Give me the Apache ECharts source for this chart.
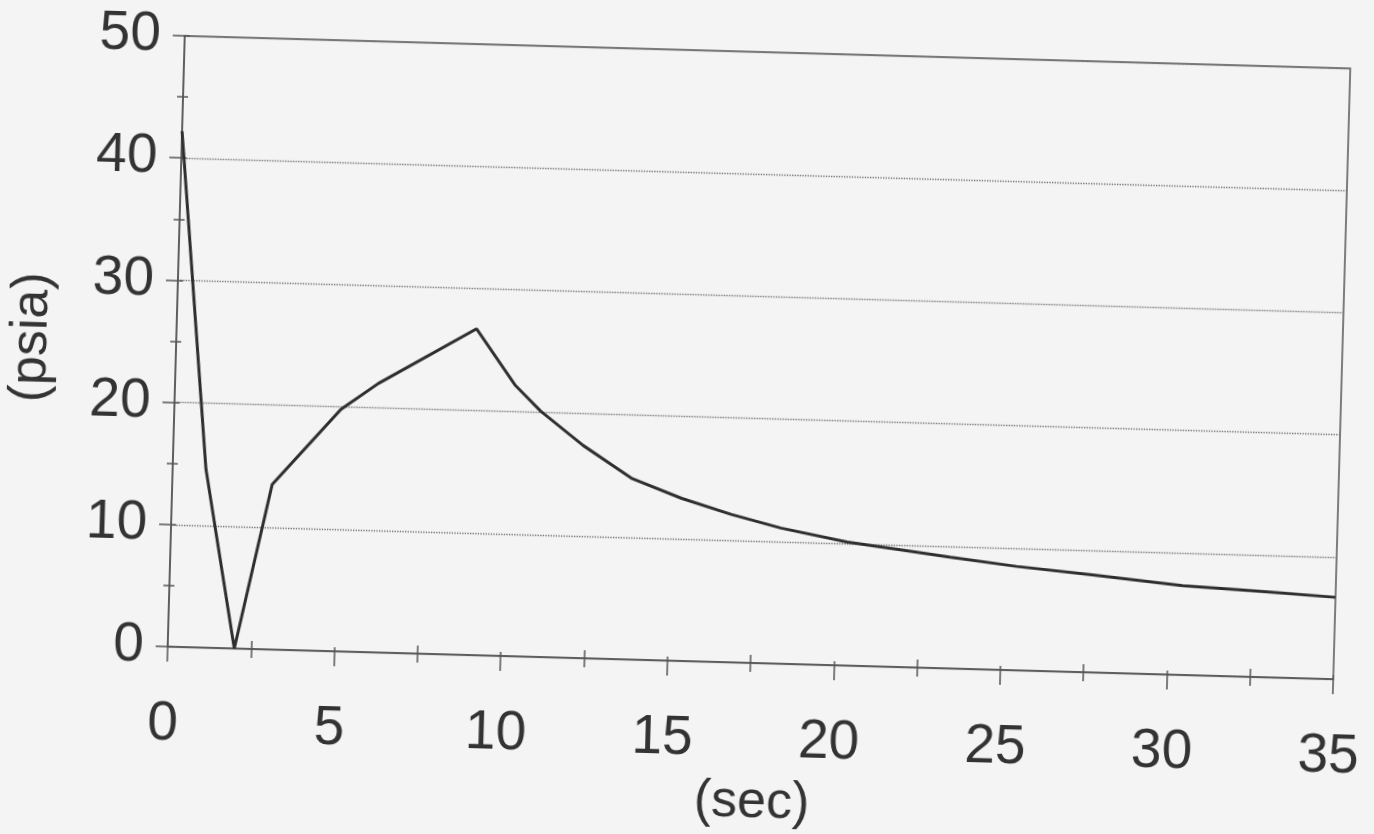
<!DOCTYPE html>
<html>
<head>
<meta charset="utf-8">
<script src="https://cdn.jsdelivr.net/npm/echarts@6/dist/echarts.min.js"></script>
<style>
  html, body { margin: 0; padding: 0; background: #f4f4f4; }
  /* the scan is tilted a little clockwise */
  #chart {
    width: 1374px; height: 834px;
    transform: rotate(1.6deg);
    transform-origin: 759px 357px;
  }
</style>
</head>
<body>
<div id="chart"></div>
<script>
// time (sec) and pressure (psia)
const timeSec = [0, 1, 2, 3, 5, 6.1, 9, 10.2, 11, 12.3, 13.8, 15.3, 16.8, 18.3, 20.3, 21.9, 23.4, 25.4, 27.6, 30.4, 32.9, 35];
const pressure = [42.2, 14.6, 0, 13.5, 19.8, 22.0, 26.7, 22.2, 20.1, 17.4, 14.8, 13.3, 12.1, 11.1, 10.1, 9.6, 9.1, 8.5, 8.0, 7.3, 7.0, 6.7];
const xTicks = [0, 5, 10, 15, 20, 25, 30, 35];
const yTicks = [0, 10, 20, 30, 40, 50];

const ink = '#333';
const font = 'Liberation Sans, Arial, sans-serif';

const chart = echarts.init(document.getElementById('chart'));

const xBase = {
  type: 'value',
  min: xTicks[0],
  max: xTicks[xTicks.length - 1],
  interval: 5,
  position: 'bottom',
  splitLine: { show: false }
};
const yBase = {
  type: 'value',
  min: yTicks[0],
  max: yTicks[yTicks.length - 1],
  interval: 10,
  position: 'left'
};

chart.setOption({
  backgroundColor: 'transparent',
  animation: false,
  grid: {
    left: 176, top: 52, width: 1166, height: 611,
    show: true,
    borderColor: '#555',
    borderWidth: 1.5,
    outerBoundsMode: 'none'
  },
  xAxis: [
    {
      ...xBase,
      name: '(sec)',
      nameLocation: 'middle',
      nameGap: 114,
      nameTextStyle: { color: ink, fontSize: 52, fontFamily: font, padding: [0, 0, 0, 10] },
      axisLine: { lineStyle: { color: '#555', width: 1.5 } },
      axisTick: { length: 15, lineStyle: { color: '#555', width: 1.5 } },
      minorTick: { show: true, splitNumber: 2, length: 9, lineStyle: { color: '#555', width: 1.5 } },
      axisLabel: { color: ink, fontSize: 55, fontFamily: font, margin: 50, padding: [0, 6, 0, 0] }
    },
    {
      ...xBase,
      axisLine: { show: false },
      axisLabel: { show: false },
      axisTick: { inside: true, length: 4, lineStyle: { color: '#555', width: 1.5 } },
      minorTick: { show: true, splitNumber: 2, length: 8, lineStyle: { color: '#555', width: 1.5 } }
    }
  ],
  yAxis: [
    {
      ...yBase,
      name: '(psia)',
      nameLocation: 'middle',
      nameGap: 118,
      nameTextStyle: { color: ink, fontSize: 52, fontFamily: font },
      axisLine: { show: true, lineStyle: { color: '#555', width: 1.5 } },
      axisTick: { show: true, length: 12, lineStyle: { color: '#555', width: 1.5 } },
      minorTick: { show: true, splitNumber: 2, length: 6, lineStyle: { color: '#555', width: 1.5 } },
      axisLabel: { color: ink, fontSize: 55, fontFamily: font, margin: 24 },
      splitLine: { show: true, lineStyle: { color: '#6f6f6f', width: 1.3, type: 'dotted' } }
    },
    {
      ...yBase,
      axisLine: { show: false },
      axisLabel: { show: false },
      splitLine: { show: false },
      axisTick: { show: true, inside: true, length: 5, lineStyle: { color: '#555', width: 1.5 } },
      minorTick: { show: true, splitNumber: 2, length: 5, lineStyle: { color: '#555', width: 1.5 } }
    }
  ],
  series: [
    {
      type: 'line',
      data: timeSec.map((t, i) => [t, pressure[i]]),
      showSymbol: false,
      lineStyle: { color: '#2e2e2e', width: 3 }
    }
  ]
});
</script>
</body>
</html>
